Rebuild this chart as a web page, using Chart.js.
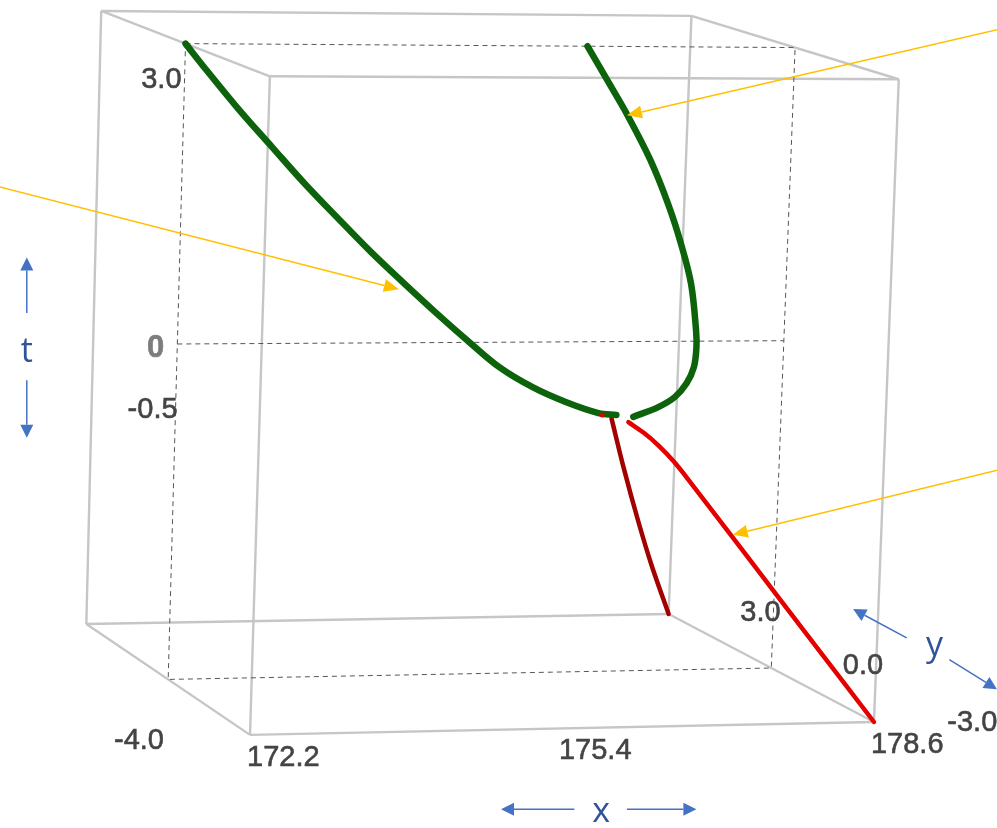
<!DOCTYPE html>
<html>
<head>
<meta charset="utf-8">
<script src="https://cdn.jsdelivr.net/npm/chart.js@4.4.0/dist/chart.umd.min.js"></script>
<style>
  html, body { margin: 0; padding: 0; background: #ffffff; }
  #wrap { position: relative; width: 997px; height: 828px; }
</style>
</head>
<body>
<div id="wrap"><canvas id="c" width="997" height="828"></canvas></div>
<script>
// ---------------- axis ranges and ticks ----------------
const xRange = [172.2, 178.6];          // x axis
const yRange = [-4.0, 4.0];             // y (depth): +4 back face, -4 front face
const tRange = [-3.35, 3.0];            // t (vertical)
const xTicks = [172.2, 175.4, 178.6];
const xTickLabels = ['172.2', '175.4', '178.6'];
const yTicks = [3.0, 0.0, -3.0, -4.0];
const yTickLabels = ['3.0', '0.0', '-3.0', '-4.0'];
const tTicks = [3.0, 0, -0.5];
const tTickLabels = ['3.0', '0', '-0.5'];

// ---------------- curves (x, y, t) ----------------
const greenLeftX = [172.2, 172.42, 172.78, 173.14, 173.49, 173.86, 174.21, 174.57, 174.89, 175.26, 175.61, 175.97, 176.32, 176.67, 176.86];
const greenLeftY = [0, 0, 0, 0, 0, 0, 0, 0, 0, 0, 0, 0, 0, 0, 0];
const greenLeftT = [3.0, 2.745, 2.343, 1.969, 1.607, 1.25, 0.919, 0.601, 0.326, 0.02, -0.255, -0.46, -0.61, -0.725, -0.746];

const greenRightX = [176.42, 176.66, 176.87, 177.12, 177.33, 177.48, 177.60, 177.67, 177.68, 177.66, 177.59, 177.47, 177.30, 177.04];
const greenRightY = [0, 0, 0, 0, 0, 0, 0, 0, 0, 0, 0, 0, 0, 0];
const greenRightT = [3.0, 2.626, 2.294, 1.852, 1.39, 0.985, 0.58, 0.105, -0.066, -0.268, -0.429, -0.569, -0.669, -0.767];

const redFrontX = [176.99, 177.11, 177.22, 177.32, 177.42, 177.80, 178.21, 178.6];
const redFrontY = [0, -0.19, -0.39, -0.62, -0.86, -1.87, -2.96, -4];
const redFrontT = [-0.82, -0.91, -1.02, -1.15, -1.31, -1.97, -2.68, -3.35];

const redBackX = [176.81, 177.22, 177.67, 178.11, 178.6];
const redBackY = [0, 1, 2, 3, 4];
const redBackT = [-0.78, -1.40, -2.09, -2.69, -3.35];

const apexX = [176.71];
const apexY = [0];
const apexT = [-0.745];

// annotation arrow targets (x, y, t) on the curves
const noteTipX = [174.52, 176.86, 177.60];
const noteTipY = [0, 0, -2];
const noteTipT = [0.54, 2.30, -1.727];

// ---------------- view (camera) layout ----------------
const VIEW = {
  back:  { tl: [98, 7],   tr: [693, 12], bl: [83, 626],  br: [670, 616] },
  front: { tl: [268, 73], tr: [902, 76], bl: [248, 738], br: [877, 725] }
};
function lerp(a, b, f) { return [a[0] + (b[0] - a[0]) * f, a[1] + (b[1] - a[1]) * f]; }
function project(x, y, t) {
  const u = (x - xRange[0]) / (xRange[1] - xRange[0]);
  const d = (yRange[1] - y) / (yRange[1] - yRange[0]);
  const v = (t - tRange[0]) / (tRange[1] - tRange[0]);
  const face = k => lerp(VIEW.back[k], VIEW.front[k], d);
  const top = lerp(face('tl'), face('tr'), u);
  const bot = lerp(face('bl'), face('br'), u);
  const p = lerp(bot, top, v);
  return { x: p[0], y: p[1] };
}
function series(xs, ys, ts) { return xs.map((x, i) => project(x, ys[i], ts[i])); }

// ---------------- datasets ----------------
const datasets = [];
function addLine(points, style, order) {
  datasets.push(Object.assign({ data: points, showLine: true, pointRadius: 0, fill: false, order: order }, style));
}
const boxStyle = { borderColor: '#c6c6c6', borderWidth: 2.4 };
const corner = (i, j, k) => project(xRange[i], yRange[j], tRange[k]);
for (let i = 0; i < 2; i++) for (let j = 0; j < 2; j++) for (let k = 0; k < 2; k++) {
  if (i === 0) addLine([corner(0, j, k), corner(1, j, k)], boxStyle, 10);
  if (j === 0) addLine([corner(i, 0, k), corner(i, 1, k)], boxStyle, 10);
  if (k === 0) addLine([corner(i, j, 0), corner(i, j, 1)], boxStyle, 10);
}
const dashStyle = { borderColor: '#555555', borderWidth: 1, borderDash: [5, 4] };
addLine([
  project(xRange[0], 0, tRange[1]), project(xRange[1], 0, tRange[1]),
  project(xRange[1], 0, tRange[0]), project(xRange[0], 0, tRange[0]),
  project(xRange[0], 0, tRange[1])
], dashStyle, 9);
addLine([project(xRange[0], 0, 0), project(xRange[1], 0, 0)], dashStyle, 9);

const curveCommon = { borderCapStyle: 'round', borderJoinStyle: 'round' };
addLine(series(redBackX, redBackY, redBackT), Object.assign({ borderColor: '#a30000', borderWidth: 4.5, tension: 0.3 }, curveCommon), 5);
addLine(series(redFrontX, redFrontY, redFrontT), Object.assign({ borderColor: '#e50000', borderWidth: 4.5, tension: 0.3 }, curveCommon), 4);
addLine(series(greenLeftX, greenLeftY, greenLeftT), Object.assign({ borderColor: '#0c630c', borderWidth: 6.5, tension: 0.35 }, curveCommon), 3);
addLine(series(greenRightX, greenRightY, greenRightT), Object.assign({ borderColor: '#0c630c', borderWidth: 6.5, tension: 0.35 }, curveCommon), 3);
datasets.push({ data: series(apexX, apexY, apexT), showLine: false, pointRadius: 2.5, pointBackgroundColor: '#e50000', pointBorderWidth: 0, order: 2 });

// ---------------- annotation layout ----------------
const tickFont = '29px "Liberation Sans", Arial, sans-serif';
const tickColor = '#444444';
const xLabelOffset = [-3, 31];
const tLabelOffsets = [[-4, 44], [-13, 13], [1.6, 24]];
const yLabelOffsets = [[46, -6.6], [71.5, 5.5], [99, 22.6], [-136, 14]];
const noteTails = [[-410, -105], [380, -88], [270, -66]];
const blueArrows = [
  [[23, 312], [23, 256]], [[23, 380], [23, 438]],
  [[575, 813], [501, 813]], [[628, 813], [698, 813]],
  [[910, 640], [856, 611]], [[953, 662], [1001, 692]]
];
const axisLetters = [['t', 23, 361], ['x', 602, 826], ['y', 938, 658]];

function arrow(ctx, from, to, color, width, headLen, headHalf) {
  const ang = Math.atan2(to[1] - from[1], to[0] - from[0]);
  const bx = to[0] - Math.cos(ang) * headLen, by = to[1] - Math.sin(ang) * headLen;
  ctx.save();
  ctx.strokeStyle = color; ctx.fillStyle = color; ctx.lineWidth = width;
  ctx.beginPath(); ctx.moveTo(from[0], from[1]); ctx.lineTo(bx, by); ctx.stroke();
  ctx.beginPath();
  ctx.moveTo(to[0], to[1]);
  ctx.lineTo(bx + Math.sin(ang) * headHalf, by - Math.cos(ang) * headHalf);
  ctx.lineTo(bx - Math.sin(ang) * headHalf, by + Math.cos(ang) * headHalf);
  ctx.closePath(); ctx.fill();
  ctx.restore();
}
function heavyText(ctx, s, x, y) {
  ctx.fillText(s, x, y);
  ctx.strokeText(s, x, y);
}

const overlay = {
  id: 'overlay',
  afterDatasetsDraw(chart) {
    const ctx = chart.ctx;
    const sx = chart.scales.x, sy = chart.scales.y;
    const px = p => [sx.getPixelForValue(p.x), sy.getPixelForValue(p.y)];
    const vp = a => [sx.getPixelForValue(a[0]), sy.getPixelForValue(a[1])];
    ctx.save();
    ctx.textBaseline = 'alphabetic';
    ctx.lineWidth = 0.6;
    // x ticks
    ctx.font = tickFont; ctx.fillStyle = tickColor; ctx.strokeStyle = tickColor; ctx.textAlign = 'left';
    xTicks.forEach((v, i) => {
      const a = px(project(v, yRange[0], tRange[0]));
      heavyText(ctx, xTickLabels[i], a[0] + xLabelOffset[0], a[1] + xLabelOffset[1]);
    });
    // y ticks
    yTicks.forEach((v, i) => {
      const xv = i < 3 ? xRange[1] : xRange[0];
      const a = px(project(xv, v, tRange[0]));
      heavyText(ctx, yTickLabels[i], a[0] + yLabelOffsets[i][0], a[1] + yLabelOffsets[i][1]);
    });
    // t ticks
    ctx.textAlign = 'right';
    tTicks.forEach((v, i) => {
      const a = px(project(xRange[0], 0, v));
      if (v === 0) { ctx.font = 'bold 31px "Liberation Sans", Arial, sans-serif'; ctx.fillStyle = '#7d7d7d'; ctx.strokeStyle = '#7d7d7d'; }
      else { ctx.font = tickFont; ctx.fillStyle = tickColor; ctx.strokeStyle = tickColor; }
      heavyText(ctx, tTickLabels[i], a[0] + tLabelOffsets[i][0], a[1] + tLabelOffsets[i][1]);
    });
    // orange annotation arrows
    noteTipX.forEach((x, i) => {
      const tip = px(project(x, noteTipY[i], noteTipT[i]));
      const tail = [tip[0] + noteTails[i][0], tip[1] + noteTails[i][1]];
      arrow(ctx, tail, tip, '#ffc000', 1.5, 15, 6.5);
    });
    // blue axis direction arrows
    blueArrows.forEach(a => arrow(ctx, vp(a[0]), vp(a[1]), '#4472c4', 1.5, 13, 6.5));
    ctx.font = '34px "Open Sans", "Noto Sans", sans-serif';
    ctx.fillStyle = '#30539a'; ctx.textAlign = 'center';
    axisLetters.forEach(l => { const p = vp([l[1], l[2]]); ctx.fillText(l[0], p[0], p[1]); });
    ctx.restore();
  }
};

new Chart(document.getElementById('c'), {
  type: 'scatter',
  data: { datasets: datasets },
  options: {
    responsive: false,
    animation: false,
    devicePixelRatio: 1,
    layout: { padding: 0 },
    plugins: { legend: { display: false }, tooltip: { enabled: false } },
    scales: {
      x: { type: 'linear', min: 0, max: 997, display: false },
      y: { type: 'linear', min: 0, max: 828, reverse: true, display: false }
    }
  },
  plugins: [overlay]
});
</script>
</body>
</html>
